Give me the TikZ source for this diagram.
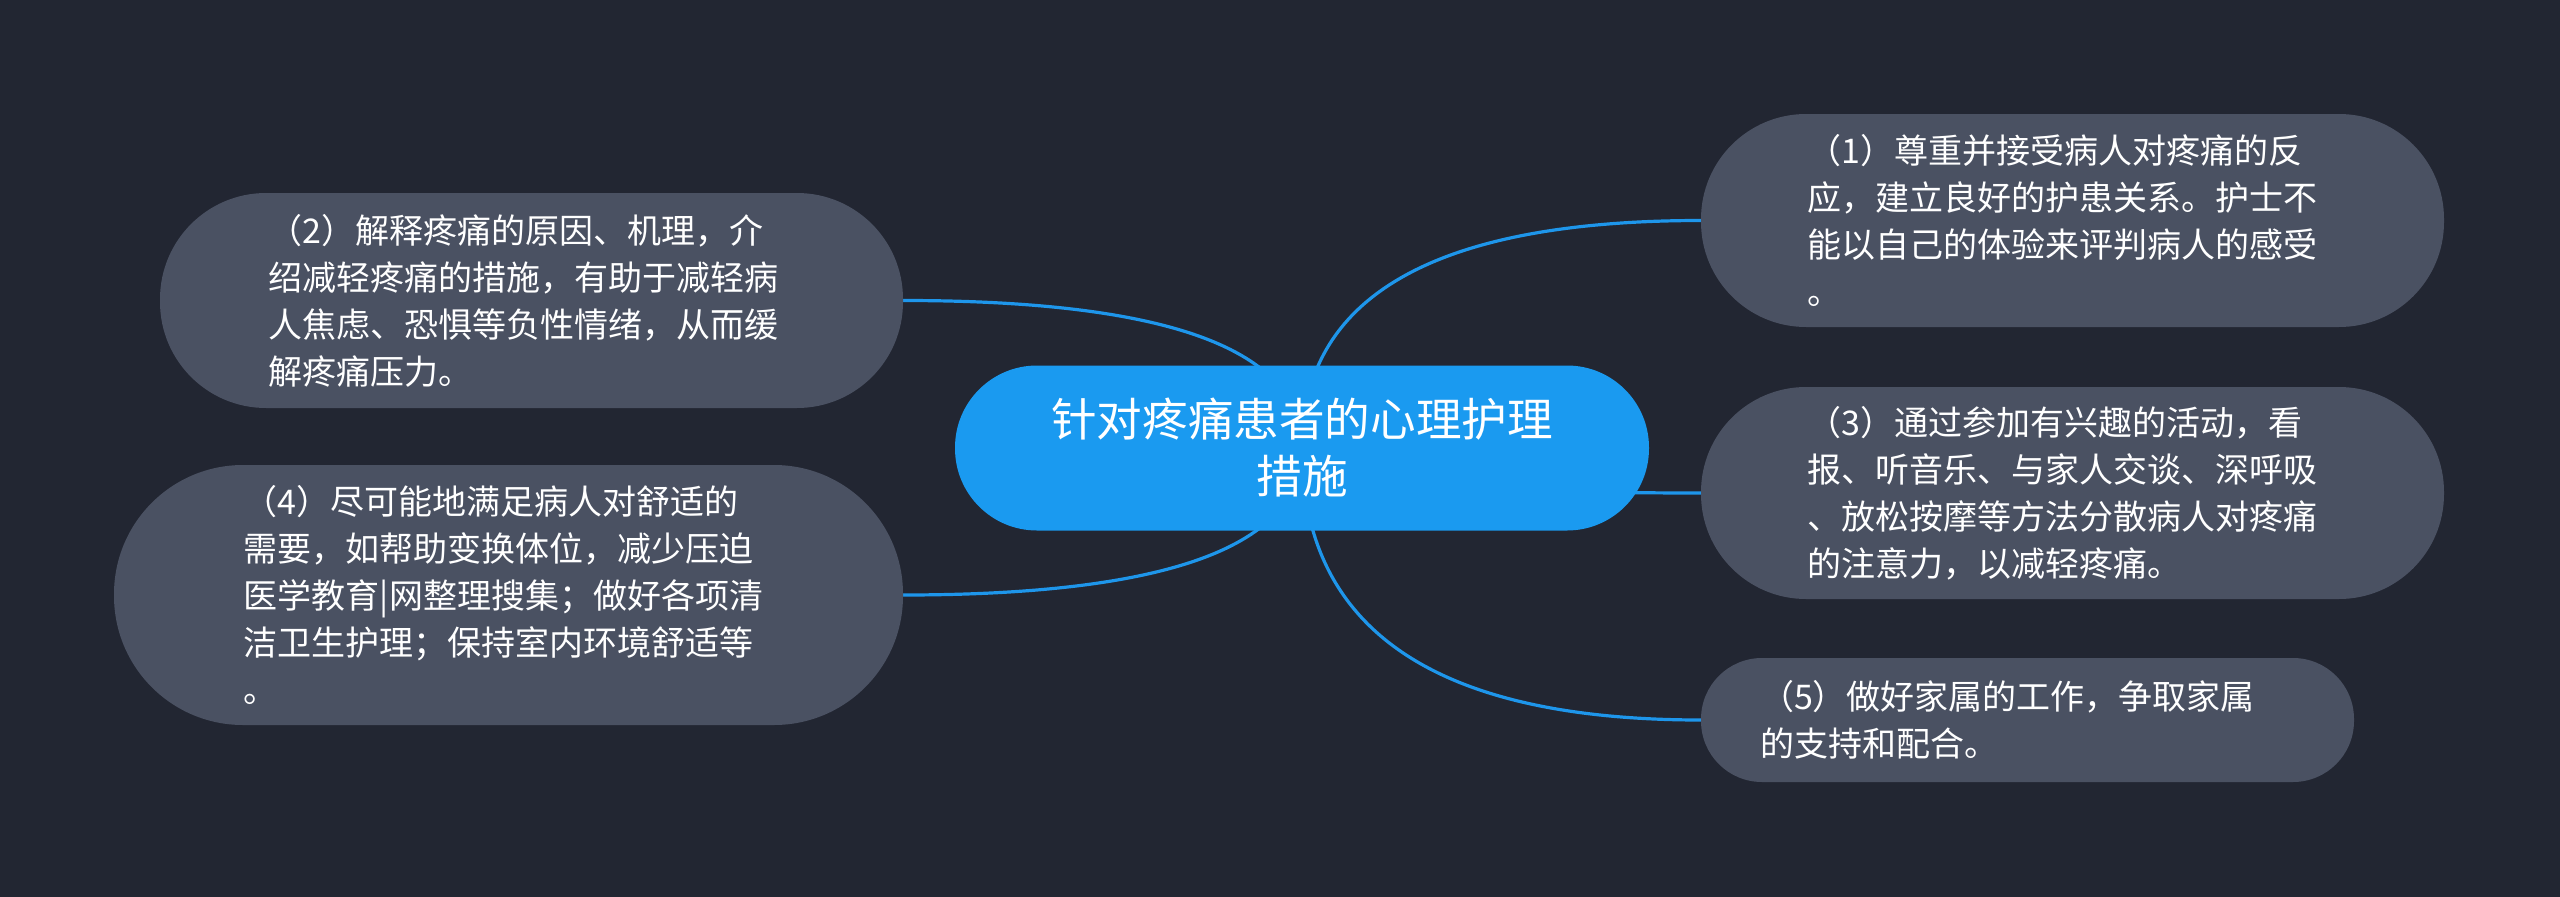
\documentclass[tikz,border=0pt]{standalone}
\usepackage{fontspec}
\newfontfamily\cjk{Noto Sans CJK SC}
\usetikzlibrary{calc}
\pgfdeclarelayer{back}
\pgfdeclarelayer{lines}
\pgfsetlayers{back,lines,main}
\definecolor{bgc}{HTML}{222632}
\definecolor{leafc}{HTML}{4A5162}
\definecolor{rootc}{HTML}{1A9AF0}
\definecolor{linec}{HTML}{1E96EB}
\tikzset{
  leaf/.style={fill=leafc, inner sep=0pt},
  leaftext/.style={text=white, align=left, inner sep=0pt,
    font=\cjk\fontsize{34}{47}\selectfont},
  rootnode/.style={fill=rootc, text=white, align=center, inner sep=0pt,
    font=\cjk\fontsize{45.6}{57}\selectfont},
  conn/.style={draw=linec, line width=3.2pt}
}
\begin{document}
\begin{tikzpicture}[x=1pt,y=-1pt]
\begin{pgfonlayer}{back}
\fill[bgc] (0,0) rectangle (2560,897);
\end{pgfonlayer}
\useasboundingbox (0,0) rectangle (2560,897);

\node[rootnode, minimum width=694pt, minimum height=165pt, rounded corners=82pt] (c) at (1302,448)
  {针对疼痛患者的心理护理\\措施};

\node[leaf, minimum width=743pt, minimum height=213pt, rounded corners=105pt] (n1) at (2072.5,220.5) {};
\node[leaftext] (t1) at ([xshift=-10pt]n1.center)
  {（1）尊重并接受病人对疼痛的反\\应，建立良好的护患关系。护士不\\能以自己的体验来评判病人的感受\\。};

\node[leaf, minimum width=743pt, minimum height=215pt, rounded corners=106pt] (n2) at (531.5,300.5) {};
\node[leaftext] (t2) at ([xshift=-8pt]n2.center)
  {（2）解释疼痛的原因、机理，介\\绍减轻疼痛的措施，有助于减轻病\\人焦虑、恐惧等负性情绪，从而缓\\解疼痛压力。};

\node[leaf, minimum width=743pt, minimum height=212pt, rounded corners=105pt] (n3) at (2072.5,493) {};
\node[leaftext] (t3) at ([xshift=-10pt]n3.center)
  {（3）通过参加有兴趣的活动，看\\报、听音乐、与家人交谈、深呼吸\\、放松按摩等方法分散病人对疼痛\\的注意力，以减轻疼痛。};

\node[leaf, minimum width=789pt, minimum height=260pt, rounded corners=129pt] (n4) at (508.5,595) {};
\node[leaftext] (t4) at ([xshift=-5pt]n4.center)
  {（4）尽可能地满足病人对舒适的\\需要，如帮助变换体位，减少压迫\\医学教育|网整理搜集；做好各项清\\洁卫生护理；保持室内环境舒适等\\。};

\node[leaf, minimum width=653pt, minimum height=124pt, rounded corners=61pt] (n5) at (2027.5,720) {};
\node[leaftext] (t5) at ([xshift=-20pt]n5.center)
  {（5）做好家属的工作，争取家属\\的支持和配合。};

\begin{pgfonlayer}{lines}
\foreach \t/\a in {n1/west,n2/east,n3/west,n4/east,n5/west}{
  \draw[conn] (c.center) .. controls ($(c.center)!2/3!(c.center |- \t.\a)$)
    and ($(\t.\a)!2/3!(c.center |- \t.\a)$) .. (\t.\a);
}
\end{pgfonlayer}
\end{tikzpicture}
\end{document}
